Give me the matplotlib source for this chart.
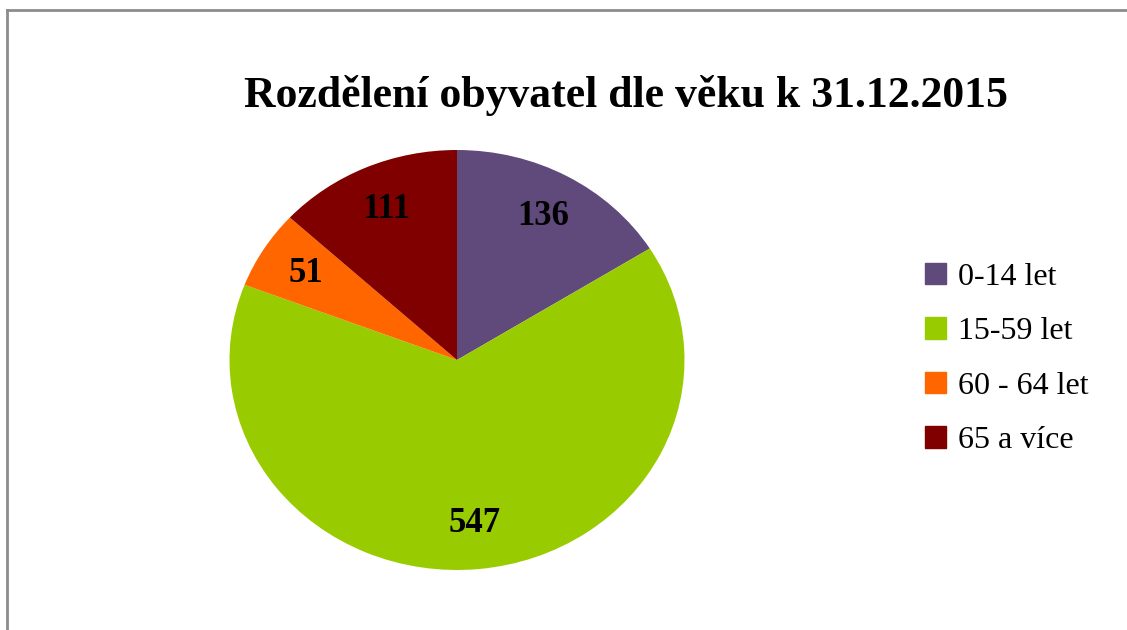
import matplotlib.pyplot as plt
from matplotlib.lines import Line2D

# data
categories = ['0-14 let', '15-59 let', '60 - 64 let', '65 a více']
values = [136, 547, 51, 111]
colors = ['#604A7B', '#99CC00', '#FF6600', '#800000']
title = 'Rozdělení obyvatel dle věku k 31.12.2015'

plt.rcParams['font.family'] = ['Liberation Serif', 'DejaVu Serif']

fig = plt.figure(figsize=(11.27, 6.3), dpi=100)

# outer border (left and top visible)
fig.add_artist(Line2D([7 / 1127, 7 / 1127], [0, 1 - 10 / 630], color='#8c8c8c', lw=2))
fig.add_artist(Line2D([7 / 1127, 1], [1 - 10 / 630, 1 - 10 / 630], color='#8c8c8c', lw=2))

fig.text(626 / 1127, 1 - 95 / 630, title, ha='center', va='center',
         fontsize=31.5, fontweight='bold')

ax = fig.add_axes([229.5 / 1127, 60 / 630, 455 / 1127, 420 / 630])
wedges, texts, autotexts = ax.pie(
    values, colors=colors, startangle=90, counterclock=False,
    autopct=lambda p: '%d' % round(p * sum(values) / 100),
    pctdistance=0.78, wedgeprops=dict(linewidth=0),
    textprops=dict(fontsize=25, fontweight='bold', color='black'))
ax.set_aspect('auto')
ax.set_xlim(-1, 1)
ax.set_ylim(-1, 1)

handles = [plt.Rectangle((0, 0), 1, 1, color=c) for c in colors]
fig.legend(handles, categories, loc='center left',
           bbox_to_anchor=(912 / 1127, 1 - 359 / 630), frameon=False,
           fontsize=23, handlelength=0.65, handleheight=0.65,
           handletextpad=0.4, labelspacing=0.8, borderaxespad=0)

fig.savefig('out.png', dpi=100)
